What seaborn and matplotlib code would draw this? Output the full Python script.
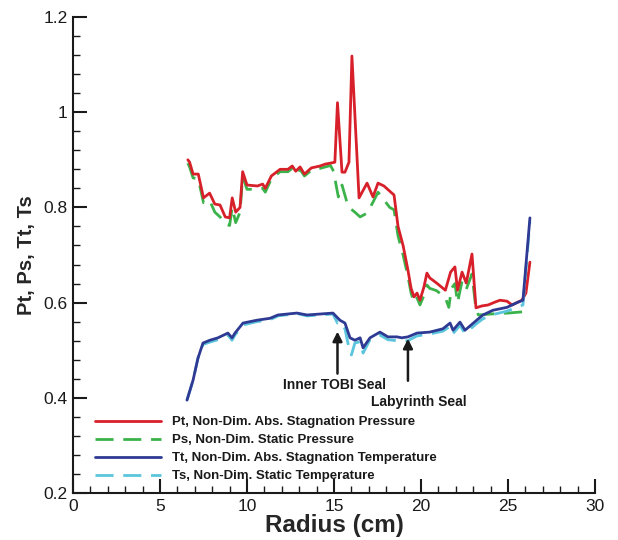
import numpy as np
import pandas as pd
import matplotlib
matplotlib.use("Agg")
import matplotlib.pyplot as plt
import seaborn as sns
from matplotlib.ticker import MultipleLocator

# ---- data ----
r_pt = [6.6, 6.7, 6.9, 7.2, 7.5, 7.85, 8.15, 8.45, 8.75, 9.0, 9.15, 9.35, 9.6, 9.75, 10.0,
        10.6, 10.9, 11.05, 11.4, 11.9, 12.35, 12.6, 12.8, 13.05, 13.3, 13.7, 14.2, 14.5, 14.8,
        15.05, 15.2, 15.46, 15.63, 15.86, 16.03, 16.44, 16.9, 17.24, 17.53, 17.87, 18.45,
        18.68, 18.97, 19.25, 19.43, 19.6, 19.77, 19.94, 20.17, 20.34, 20.5, 20.9, 21.4, 21.7,
        21.95, 22.1, 22.36, 22.6, 22.93, 23.16, 23.5, 23.85, 24.25, 24.54, 24.94, 25.23,
        25.57, 25.8, 26.03, 26.26]
v_pt = [0.90, 0.895, 0.87, 0.87, 0.82, 0.83, 0.807, 0.805, 0.78, 0.778, 0.82, 0.79, 0.80,
        0.875, 0.847, 0.845, 0.849, 0.84, 0.866, 0.88, 0.88, 0.887, 0.876, 0.885, 0.87, 0.883,
        0.887, 0.891, 0.893, 0.895, 1.02, 0.874, 0.874, 0.895, 1.118, 0.82, 0.851, 0.822,
        0.851, 0.845, 0.826, 0.76, 0.72, 0.668, 0.63, 0.612, 0.62, 0.605, 0.633, 0.662, 0.652,
        0.641, 0.626, 0.664, 0.675, 0.626, 0.664, 0.641, 0.702, 0.589, 0.593, 0.595, 0.601,
        0.605, 0.603, 0.595, 0.601, 0.605, 0.62, 0.685]

r_ps = [6.6, 6.7, 6.9, 7.2, 7.5, 7.85, 8.15, 8.45, 8.75, 9.0, 9.15, 9.35, 9.6, 9.75, 10.0,
        10.6, 10.9, 11.05, 11.4, 11.9, 12.35, 12.6, 12.8, 13.05, 13.3, 13.7, 14.2, 14.5, 14.8,
        15.0, 15.1, 15.25, 15.46, 15.75, 15.86, 16.2, 16.5, 16.9, 17.24, 17.53, 18.2, 18.45,
        18.68, 18.97, 19.25, 19.43, 19.6, 19.77, 19.94, 20.17, 20.34, 20.5, 20.9, 21.4, 21.6,
        21.75, 21.95, 22.1, 22.36, 22.6, 22.93, 23.16, 23.3, 24.0, 25.0, 26.3]
v_ps = [0.893, 0.885, 0.862, 0.86, 0.81, 0.815, 0.79, 0.78, 0.765, 0.762, 0.80, 0.768, 0.79,
        0.865, 0.838, 0.838, 0.84, 0.832, 0.86, 0.875, 0.875, 0.882, 0.87, 0.88, 0.866, 0.878,
        0.882, 0.885, 0.888, 0.874, 0.851, 0.822, 0.847, 0.81, 0.80, 0.79, 0.78, 0.788, 0.811,
        0.832, 0.80, 0.795, 0.74, 0.70, 0.655, 0.62, 0.60, 0.61, 0.595, 0.615, 0.637, 0.63,
        0.625, 0.61, 0.59, 0.63, 0.64, 0.60, 0.645, 0.628, 0.66, 0.585, 0.574, 0.576, 0.578,
        0.582]

r_tt = [6.55, 6.9, 7.18, 7.47, 7.87, 8.33, 8.9, 9.14, 9.31, 9.77, 10.57, 11.32, 11.78, 12.87,
        13.45, 14.2, 14.94, 15.34, 15.63, 15.92, 16.2, 16.5, 16.67, 17.07, 17.64, 18.1, 18.62,
        18.9, 19.25, 19.77, 20.5, 21.26, 21.67, 21.84, 22.24, 22.53, 23.2, 23.56, 24.14,
        24.94, 25.52, 25.86, 26.26]
v_tt = [0.395, 0.437, 0.483, 0.515, 0.521, 0.526, 0.536, 0.526, 0.536, 0.557, 0.563, 0.567,
        0.574, 0.578, 0.574, 0.576, 0.578, 0.563, 0.557, 0.526, 0.521, 0.526, 0.505, 0.526,
        0.538, 0.528, 0.528, 0.526, 0.528, 0.536, 0.538, 0.545, 0.557, 0.542, 0.559, 0.542,
        0.563, 0.574, 0.584, 0.59, 0.60, 0.605, 0.778]

r_ts = [6.55, 6.9, 7.18, 7.47, 7.87, 8.33, 8.9, 9.14, 9.31, 9.77, 10.57, 11.32, 11.78, 12.87,
        13.45, 14.2, 14.94, 15.2, 15.34, 15.63, 15.8, 16.0, 16.2, 16.5, 16.67, 17.07, 17.64,
        18.1, 18.62, 18.9, 19.25, 19.77, 20.5, 21.26, 21.67, 21.84, 22.24, 22.53, 23.2,
        23.56, 24.14, 24.94, 25.52, 25.86, 26.26]
v_ts = [0.395, 0.437, 0.483, 0.512, 0.517, 0.522, 0.532, 0.521, 0.532, 0.553, 0.56, 0.564,
        0.572, 0.577, 0.572, 0.574, 0.576, 0.557, 0.56, 0.545, 0.515, 0.49, 0.515, 0.518,
        0.494, 0.522, 0.532, 0.522, 0.52, 0.52, 0.52, 0.53, 0.534, 0.54, 0.55, 0.535, 0.552,
        0.535, 0.556, 0.566, 0.575, 0.582, 0.59, 0.595, 0.77]

labels = ["Pt, Non-Dim. Abs. Stagnation Pressure",
          "Ps, Non-Dim. Static Pressure",
          "Tt, Non-Dim. Abs. Stagnation Temperature",
          "Ts, Non-Dim. Static Temperature"]
x_ticks = [0, 5, 10, 15, 20, 25, 30]
y_ticks = [0.2, 0.4, 0.6, 0.8, 1.0, 1.2]
y_tick_labels = ["0.2", "0.4", "0.6", "0.8", "1", "1.2"]

colors = ["#d7202a", "#3bb34a", "#2e3a93", "#5ac5dc"]

sns.set_style("ticks")
plt.rcParams["font.family"] = ["Liberation Sans", "DejaVu Sans"]

fig = plt.figure(figsize=(6.18, 5.4), dpi=100)
ax = fig.add_axes([73 / 618, 1 - 493 / 540, 522 / 618, 476 / 540])

series = [(r_pt, v_pt), (r_ps, v_ps), (r_tt, v_tt), (r_ts, v_ts)]
dashed = [False, True, False, True]
order = [1, 0, 3, 2]
handles = {}
for i in order:
    rr, vv = series[i]
    df = pd.DataFrame({"r": rr, "v": vv})
    sns.lineplot(data=df, x="r", y="v", ax=ax, sort=False, estimator=None,
                 color=colors[i], lw=2.0, label=labels[i])
    ln = ax.lines[-1]
    if dashed[i]:
        ln.set_dashes((6.5, 3.5))
    handles[i] = ln

ax.set_xlim(0, 30)
ax.set_ylim(0.2, 1.2)
ax.set_xticks(x_ticks)
ax.set_xticklabels([str(t) for t in x_ticks])
ax.set_yticks(y_ticks)
ax.set_yticklabels(y_tick_labels)
ax.xaxis.set_minor_locator(MultipleLocator(1))
ax.yaxis.set_minor_locator(MultipleLocator(0.04))
ax.tick_params(which="major", direction="in", length=10, width=1.5, labelsize=12.5,
               colors="#1a1a1a", pad=4)
ax.tick_params(which="minor", direction="in", length=5, width=1.0, colors="#1a1a1a")
for s in ["top", "right"]:
    ax.spines[s].set_visible(False)
for s in ["left", "bottom"]:
    ax.spines[s].set_linewidth(1.5)
    ax.spines[s].set_color("#1a1a1a")

ax.set_xlabel("Radius (cm)", fontsize=17.5, fontweight="bold", labelpad=0)
ax.set_ylabel("Pt, Ps, Tt, Ts", fontsize=14.5, fontweight="bold", labelpad=5)

# annotations
ax.annotate("", xy=(15.2, 0.545), xytext=(15.2, 0.445),
            arrowprops=dict(arrowstyle="-|>", color="#1a1a1a", lw=1.8,
                            mutation_scale=14))
ax.text(15.05, 0.427, "Inner TOBI Seal", ha="center", va="center", fontsize=10,
        fontweight="bold", color="#1a1a1a")
ax.annotate("", xy=(19.25, 0.53), xytext=(19.25, 0.43),
            arrowprops=dict(arrowstyle="-|>", color="#1a1a1a", lw=1.8,
                            mutation_scale=14))
ax.text(19.9, 0.391, "Labyrinth Seal", ha="center", va="center", fontsize=10,
        fontweight="bold", color="#1a1a1a")

leg = ax.legend([handles[i] for i in range(4)], labels, loc="lower left",
                bbox_to_anchor=(0.025, 0.003), frameon=False, handlelength=5.0,
                handletextpad=0.85, labelspacing=0.44, borderpad=0.2,
                prop={"size": 9.5, "weight": "bold"})
for t in leg.get_texts():
    t.set_color("#1a1a1a")

fig.savefig("out.png", dpi=100, facecolor="white")
